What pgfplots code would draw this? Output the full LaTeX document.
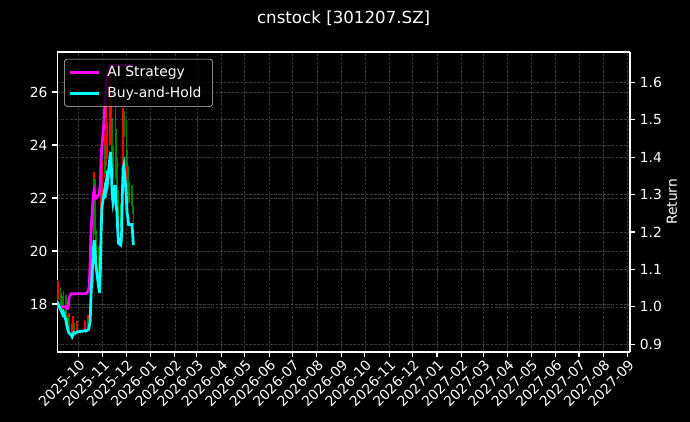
\documentclass[border=0pt]{standalone}
\usepackage{pgfplots}
\pgfplotsset{compat=1.18}
\usepackage{fontspec}
\setmainfont{DejaVu Sans}

\definecolor{barred}{HTML}{FF0000}
\definecolor{bargreen}{HTML}{008000}
\definecolor{stratmag}{HTML}{FF00FF}
\definecolor{holdcyan}{HTML}{00FFFF}

% x values: days counted from 2025-10-01
\pgfplotsset{
  chart/.style={
    scale only axis, width=412.4pt, height=216pt,
    at={(41.2pt,50.4pt)}, anchor=south west,
    xmin=-27, xmax=703,
    axis line style={white, line width=0.8pt, -},
    tick style={white, line width=0.8pt},
    major tick length=3.5pt, tick align=outside,
    tick label style={white, font=\fontsize{10}{12}\selectfont},
    label style={white, font=\fontsize{10}{12}\selectfont},
    /pgf/number format/assume math mode=true,
    grid style={gray, opacity=0.45, dash pattern=on 2pt off 1pt, line width=0.4pt},
  }
}

\begin{document}
\begin{tikzpicture}
\fill[black] (0,0) rectangle (496.8pt,303.8pt);
\path[use as bounding box] (0,0) rectangle (496.8pt,303.8pt);

\begin{axis}[chart,
  axis y line*=left, xtick pos=bottom,
  ymin=16.19, ymax=27.51, ytick={18,20,22,24,26},
  xtick={0,31,61,92,123,151,182,212,243,273,304,335,365,396,426,457,488,516,547,577,608,638,669,700},
  xticklabels={2025-10,2025-11,2025-12,2026-01,2026-02,2026-03,2026-04,2026-05,2026-06,2026-07,2026-08,2026-09,2026-10,2026-11,2026-12,2027-01,2027-02,2027-03,2027-04,2027-05,2027-06,2027-07,2027-08,2027-09},
  xticklabel style={rotate=45, anchor=north east, inner sep=1pt},
  xmajorgrids, ymajorgrids,
  ylabel={Price},
  every axis y label/.style={at={(axis description cs:-0.0703,0.5)}, rotate=90, anchor=center},
  title={cnstock [301207.SZ]},
  title style={white, font=\fontsize{12}{14}\selectfont, at={(0.5,1)}, anchor=center, yshift=18.5pt},
  unbounded coords=jump,
]
% daily low-high bars, up days
\addplot[barred, line width=1.1pt, mark=none] coordinates {
(-27,18.0) (-27,18.9) (-27,nan)
(-26,18.15) (-26,18.85) (-26,nan)
(-19,17.85) (-19,18.5) (-19,nan)
(-12,16.85) (-12,17.65) (-12,nan)
(-8,16.7) (-8,17.2) (-8,nan)
(-7,16.8) (-7,17.55) (-7,nan)
(-2,16.9) (-2,17.35) (-2,nan)
(8,16.95) (8,17.4) (8,nan)
(12,17.0) (12,17.6) (12,nan)
(14,17.2) (14,17.75) (14,nan)
(15,17.35) (15,18.0) (15,nan)
(16,17.6) (16,19.4) (16,nan)
(19,18.8) (19,21.5) (19,nan)
(20,20.7) (20,22.98) (20,nan)
(28,18.9) (28,20.5) (28,nan)
(29,20.0) (29,22.4) (29,nan)
(30,21.9) (30,23.4) (30,nan)
(33,22.8) (33,24.4) (33,nan)
(35,23.2) (35,24.8) (35,nan)
(36,23.8) (36,25.6) (36,nan)
(40,24.0) (40,26.3) (40,nan)
(41,24.8) (41,27.0) (41,nan)
(47,23.0) (47,26.4) (47,nan)
(55,21.0) (55,22.5) (55,nan)
(56,21.5) (56,24.2) (56,nan)
(57,23.4) (57,25.4) (57,nan)
(62,22.4) (62,23.8) (62,nan)
(65,21.8) (65,22.6)
};
% down days
\addplot[bargreen, line width=1.1pt, mark=none] coordinates {
(-23,18.0) (-23,18.6) (-23,nan)
(-22,17.95) (-22,18.4) (-22,nan)
(-21,17.85) (-21,18.3) (-21,nan)
(-20,17.7) (-20,18.2) (-20,nan)
(-16,17.5) (-16,18.35) (-16,nan)
(-15,17.3) (-15,17.9) (-15,nan)
(-14,17.1) (-14,17.6) (-14,nan)
(-13,16.95) (-13,17.5) (-13,nan)
(-9,16.75) (-9,17.3) (-9,nan)
(-6,16.85) (-6,17.45) (-6,nan)
(-5,16.85) (-5,17.3) (-5,nan)
(-1,16.95) (-1,17.3) (-1,nan)
(9,16.95) (9,17.35) (9,nan)
(13,17.05) (13,17.45) (13,nan)
(21,20.6) (21,22.7) (21,nan)
(22,20.1) (22,21.6) (22,nan)
(23,19.8) (23,20.8) (23,nan)
(26,18.95) (26,20.2) (26,nan)
(27,18.8) (27,19.5) (27,nan)
(34,22.9) (34,24.0) (34,nan)
(37,23.5) (37,24.9) (37,nan)
(42,24.3) (42,26.2) (42,nan)
(43,23.2) (43,25.0) (43,nan)
(44,22.8) (44,24.0) (44,nan)
(48,22.7) (48,24.6) (48,nan)
(49,22.4) (49,23.5) (49,nan)
(50,21.6) (50,23.0) (50,nan)
(51,21.0) (51,22.3) (51,nan)
(54,20.9) (54,21.8) (54,nan)
(58,24.3) (58,25.3) (58,nan)
(61,23.2) (61,24.9) (61,nan)
(63,22.1) (63,23.2) (63,nan)
(64,21.8) (64,22.8) (64,nan)
(68,21.7) (68,22.5) (68,nan)
(69,21.4) (69,22.2) (69,nan)
(70,20.9) (70,21.7)
};
\end{axis}

\begin{axis}[chart,
  axis y line*=right, axis x line=none,
  ytick pos=right, yticklabel pos=right,
  ymin=0.8794, ymax=1.681,
  ytick={0.9,1.0,1.1,1.2,1.3,1.4,1.5,1.6},
  yticklabel style={/pgf/number format/.cd, fixed, fixed zerofill, precision=1},
  ymajorgrids,
  legend cell align=left,
  legend image code/.code={\draw[#1] (0pt,0pt) -- (21pt,0pt);},
  legend style={at={(0.012,0.977)}, anchor=north west,
    fill=black, fill opacity=0.8, draw opacity=1, text opacity=1,
    draw=white!80!black, rounded corners=2pt, text=white,
    font=\fontsize{10}{12}\selectfont, row sep=2pt, inner sep=3pt,
    nodes={inner xsep=5pt}},
]
\addplot[stratmag, line width=2pt, mark=none] coordinates {
(-27,1.0) (-26,1.0) (-23,1.0) (-22,1.0) (-21,1.0) (-20,1.0) (-19,1.0)
(-16,1.0) (-15,0.995) (-14,0.995) (-13,1.0) (-12,1.025)
(-9,1.035) (-8,1.035) (-7,1.035) (-6,1.035) (-5,1.035) (-2,1.035) (-1,1.035)
(8,1.035) (9,1.035) (12,1.04) (13,1.045) (14,1.06) (15,1.12) (16,1.20)
(19,1.30) (20,1.31) (21,1.30) (22,1.29) (23,1.29)
(26,1.30) (27,1.31) (28,1.33) (29,1.40) (30,1.43)
(33,1.50) (34,1.56) (35,1.58) (36,1.60) (37,1.62)
(40,1.645) (41,1.645) (42,1.645) (43,1.645) (44,1.645)
(47,1.645) (48,1.645) (49,1.645) (50,1.645) (51,1.645)
(54,1.645) (55,1.645) (56,1.645) (57,1.645) (58,1.645)
(61,1.645) (62,1.645) (63,1.645) (64,1.645) (65,1.645)
(68,1.645) (69,1.645) (70,1.645)
};
\addlegendentry{AI Strategy}
\addplot[holdcyan, line width=2pt, mark=none] coordinates {
(-27,1.000) (-26,1.008) (-23,0.995) (-22,0.990) (-21,0.985) (-20,0.980) (-19,0.985)
(-16,0.965) (-15,0.952) (-14,0.945) (-13,0.935) (-12,0.930)
(-9,0.924) (-8,0.920) (-7,0.925) (-6,0.930) (-5,0.928) (-2,0.932) (-1,0.933)
(8,0.936) (9,0.935) (12,0.938) (13,0.940) (14,0.950) (15,0.960) (16,1.030)
(19,1.150) (20,1.178) (21,1.160) (22,1.120) (23,1.100)
(26,1.050) (27,1.037) (28,1.100) (29,1.210) (30,1.267)
(33,1.307) (34,1.290) (35,1.325) (36,1.342) (37,1.330)
(40,1.396) (41,1.414) (42,1.370) (43,1.300) (44,1.280)
(47,1.325) (48,1.270) (49,1.258) (50,1.210) (51,1.170)
(54,1.165) (55,1.190) (56,1.300) (57,1.370) (58,1.379)
(61,1.300) (62,1.250) (63,1.240) (64,1.220) (65,1.220)
(68,1.220) (69,1.200) (70,1.165)
};
\addlegendentry{Buy-and-Hold}
\end{axis}
% right-hand axis label
\node[white, rotate=90, font=\fontsize{10}{12}\selectfont] at (483.8pt,158.4pt) {Return};
\end{tikzpicture}
\end{document}
